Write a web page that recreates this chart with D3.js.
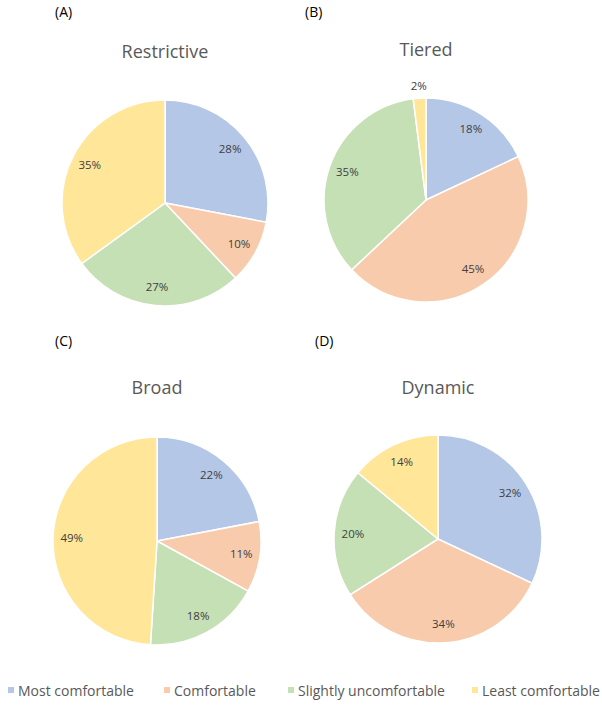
<!DOCTYPE html>
<html>
<head>
<meta charset="utf-8">
<script src="https://cdn.jsdelivr.net/npm/d3@7"></script>
<style>
  body { margin: 0; background: #fff; }
  svg { display: block; font-family: "Open Sans", "Noto Sans", sans-serif; }
  .title { fill: #595959; font-size: 18px; }
  .panel { fill: #000; font-size: 14px; }
  .pct { fill: #404040; font-size: 11.5px; }
  .legend text { fill: #595959; font-size: 14px; }
</style>
</head>
<body>
<div id="chart"></div>
<script>
// data
var categories = ["Most comfortable", "Comfortable", "Slightly uncomfortable", "Least comfortable"];
var colors = ["#B4C7E7", "#F8CBAD", "#C5E0B4", "#FFE699"];
var panelLabels = ["(A)", "(B)", "(C)", "(D)"];
var titles = ["Restrictive", "Tiered", "Broad", "Dynamic"];
var restrictive = [28, 10, 27, 35];
var tiered = [18, 45, 35, 2];
var broad = [22, 11, 18, 49];
var dynamic = [32, 34, 20, 14];

var W = 602, H = 705;
var svg = d3.select("#chart").append("svg")
    .attr("width", W)
    .attr("height", H);

// layout of each panel
var panels = [
    {values: restrictive, cx: 165, cy: 203, r: 103, tx: 165, ty: 58, lx: 55, ly: 17},
    {values: tiered, cx: 426, cy: 200, r: 102, tx: 426, ty: 56, lx: 305, ly: 17},
    {values: broad, cx: 157, cy: 541, r: 104, tx: 157, ty: 394, lx: 55, ly: 346},
    {values: dynamic, cx: 438, cy: 539, r: 104, tx: 438, ty: 394, lx: 315, ly: 346}
];

var color = d3.scaleOrdinal().domain(categories).range(colors);
var pie = d3.pie().sort(null).value(function (d) { return d.value; });

panels.forEach(function (p, i) {
    var data = categories.map(function (c, j) {
        return {cat: c, value: p.values[j]};
    });

    svg.append("text")
        .attr("class", "panel")
        .attr("x", p.lx)
        .attr("y", p.ly)
        .text(panelLabels[i]);

    svg.append("text")
        .attr("class", "title")
        .attr("text-anchor", "middle")
        .attr("x", p.tx)
        .attr("y", p.ty)
        .text(titles[i]);

    var g = svg.append("g")
        .attr("transform", "translate(" + p.cx + "," + p.cy + ")");

    var arc = d3.arc().innerRadius(0).outerRadius(p.r);
    var labelArc = d3.arc().innerRadius(p.r * 0.82).outerRadius(p.r * 0.82);
    var outerArc = d3.arc().innerRadius(p.r + 12).outerRadius(p.r + 12);

    var arcs = pie(data);

    g.selectAll("path")
        .data(arcs)
        .enter().append("path")
        .attr("d", arc)
        .attr("fill", function (d) { return color(d.data.cat); })
        .attr("stroke", "#fff")
        .attr("stroke-width", 1.5);

    g.selectAll("text")
        .data(arcs)
        .enter().append("text")
        .attr("class", "pct")
        .attr("text-anchor", "middle")
        .attr("dy", "0.35em")
        .attr("transform", function (d) {
            // tiny slices get their label outside the pie
            var c = d.data.value < 5 ? outerArc.centroid(d) : labelArc.centroid(d);
            return "translate(" + c + ")";
        })
        .text(function (d) { return d.data.value + "%"; });
});

// legend
var legendX = [8, 164, 288, 472];
var legend = svg.append("g").attr("class", "legend");
var item = legend.selectAll("g")
    .data(categories)
    .enter().append("g")
    .attr("transform", function (d, i) { return "translate(" + legendX[i] + ",691)"; });

item.append("rect")
    .attr("x", 0)
    .attr("y", -4)
    .attr("width", 6)
    .attr("height", 6)
    .attr("fill", function (d) { return color(d); });

item.append("text")
    .attr("x", 10)
    .attr("y", 0)
    .attr("dy", "0.35em")
    .text(function (d) { return d; });
</script>
</body>
</html>
